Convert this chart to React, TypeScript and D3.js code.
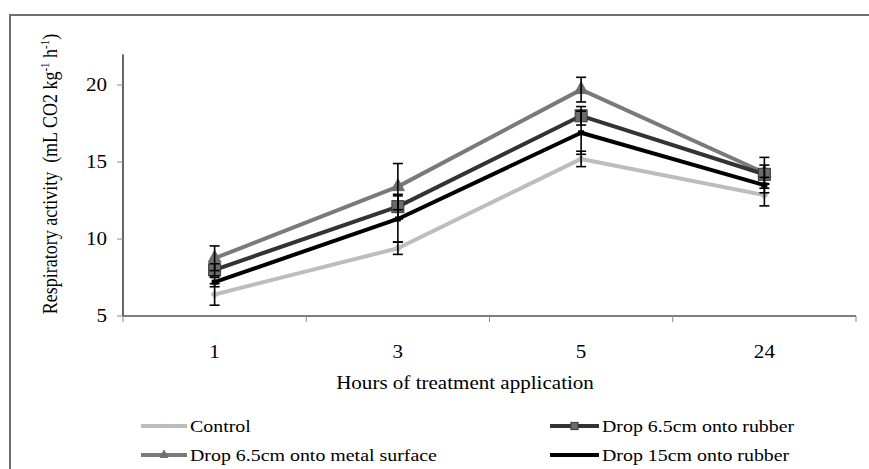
import React from "react";
import * as d3 from "d3";

const categories = ["1", "3", "5", "24"];
const control = [6.4, 9.4, 15.2, 12.85];
const controlErr = [0.7, 0.4, 0.5, 0.7];
const rubber65 = [8.0, 12.1, 18.0, 14.2];
const rubber65Err = [0.4, 0.8, 0.6, 0.6];
const metal65 = [8.75, 13.4, 19.7, 14.3];
const metal65Err = [0.8, 1.5, 0.8, 1.0];
const rubber15 = [7.2, 11.3, 16.9, 13.5];
const rubber15Err = [0.3, 1.5, 1.4, 0.5];
const yTicks = [5, 10, 15, 20];

const series = [
  { name: "Control", values: control, err: controlErr, color: "#bdbdbd", marker: "diamond" },
  { name: "Drop 6.5cm onto metal surface", values: metal65, err: metal65Err, color: "#7a7a7a", marker: "triangle" },
  { name: "Drop 6.5cm onto rubber", values: rubber65, err: rubber65Err, color: "#333333", marker: "square" },
  { name: "Drop 15cm onto rubber", values: rubber15, err: rubber15Err, color: "#000000", marker: "dash" },
];

const FONT = '"Liberation Serif", "DejaVu Serif", serif';
const SX = 1.17;

function SText({ x, y, anchor = "start", size = 18, dy, children }: any) {
  return (
    <text
      transform={`translate(${x},${y}) scale(${SX},1)`}
      textAnchor={anchor}
      fontSize={size}
      dy={dy}
      fill="#000"
      style={{ fontFamily: FONT }}
    >
      {children}
    </text>
  );
}

function Marker({ type, x, y, color, k = 1 }: { type: string; x: number; y: number; color: string; k?: number }) {
  if (type === "diamond") {
    return <path d={`M${x},${y - 4.5 * k}L${x + 4 * k},${y}L${x},${y + 4.5 * k}L${x - 4 * k},${y}Z`} fill={color} />;
  }
  if (type === "triangle") {
    return <path d={`M${x},${y - 8 * k}L${x + 6.5 * k},${y + 4 * k}L${x - 6.5 * k},${y + 4 * k}Z`} fill="#6f6f6f" stroke="#6f6f6f" strokeWidth={1} />;
  }
  if (type === "square") {
    return <rect x={x - 6 * k} y={y - 6 * k} width={12 * k} height={12 * k} fill="#6b6b6b" stroke="#3a3a3a" strokeWidth={1} />;
  }
  return <rect x={x - 3 * k} y={y - 2.5 * k} width={6 * k} height={5 * k} fill={color} />;
}

export default function App() {
  const x = d3.scaleBand<string>().domain(categories).range([123, 856]);
  const y = d3.scaleLinear().domain([5, 22]).range([316, 316 - 17 * 15.4]);
  const cx = (c: string) => (x(c) as number) + x.bandwidth() / 2;
  const line = d3
    .line<number>()
    .x((_, i) => cx(categories[i]))
    .y((v) => y(v));
  const boundaries = [...categories.map((c) => x(c) as number), 856];

  const legend = [
    { s: series[0], lx: 141, tx: 190, ly: 426 },
    { s: series[2], lx: 550, tx: 602, ly: 426 },
    { s: series[1], lx: 141, tx: 190, ly: 455 },
    { s: series[3], lx: 550, tx: 602, ly: 455 },
  ];

  return (
    <div style={{ position: "fixed", left: 0, top: 0 }}>
      <svg width={869} height={469} style={{ display: "block", background: "#fff", fontFamily: FONT }}>
        <rect x={10} y={15} width={880} height={480} fill="none" stroke="#6e6e6e" strokeWidth={2} />
        {/* axes */}
        <line x1={123} x2={123} y1={y(22)} y2={316} stroke="#000" strokeWidth={1.2} />
        <line x1={123} x2={856} y1={316} y2={316} stroke="#000" strokeWidth={1.2} />
        {yTicks.map((t) => (
          <g key={t}>
            <line x1={117} x2={123} y1={y(t)} y2={y(t)} stroke="#888" strokeWidth={1} />
            <SText x={107} y={y(t)} dy="0.35em" anchor="end">
              {t}
            </SText>
          </g>
        ))}
        {boundaries.map((b, i) => (
          <line key={i} x1={b} x2={b} y1={316} y2={322} stroke="#888" strokeWidth={1} />
        ))}
        {categories.map((c) => (
          <SText key={c} x={cx(c)} y={358} anchor="middle">
            {c}
          </SText>
        ))}
        <SText x={465} y={389} anchor="middle">
          Hours of treatment application
        </SText>
        <text
          transform={`translate(57,174) scale(${SX},1) rotate(-90)`}
          textAnchor="middle"
          fontSize={18}
          fill="#000"
          style={{ fontFamily: FONT }}
        >
          <tspan>{"Respiratory activity\u00a0 (mL CO2 kg"}</tspan>
          <tspan fontSize={11} dy={-7}>-1</tspan>
          <tspan dy={7}>{"\u00a0h"}</tspan>
          <tspan fontSize={11} dy={-7}>-1</tspan>
          <tspan dy={7}>)</tspan>
        </text>
        {/* lines */}
        {series.map((s) => (
          <path key={s.name} d={line(s.values) as string} fill="none" stroke={s.color} strokeWidth={4} strokeLinejoin="round" />
        ))}
        {/* markers */}
        {series.map((s) =>
          s.values.map((v, i) => (
            <Marker key={s.name + i} type={s.marker} x={cx(categories[i])} y={y(v)} color={s.color} />
          ))
        )}
        {/* error bars */}
        {series.map((s) =>
          s.values.map((v, i) => {
            const px = cx(categories[i]);
            const top = y(v + s.err[i]);
            const bot = y(v - s.err[i]);
            return (
              <g key={"e" + s.name + i} stroke="#000" strokeWidth={1.6}>
                <line x1={px} x2={px} y1={top} y2={bot} />
                <line x1={px - 5} x2={px + 5} y1={top} y2={top} />
                <line x1={px - 5} x2={px + 5} y1={bot} y2={bot} />
              </g>
            );
          })
        )}
        {/* legend */}
        {legend.map(({ s, lx, tx, ly }) => (
          <g key={"l" + s.name}>
            <line x1={lx} x2={tx - 3} y1={ly} y2={ly} stroke={s.color} strokeWidth={4} />
            <Marker type={s.marker} x={(lx + tx - 3) / 2} y={ly} color={s.color} k={0.6} />
            <SText x={tx} y={ly} dy="0.35em" size={17}>
              {s.name}
            </SText>
          </g>
        ))}
      </svg>
    </div>
  );
}
